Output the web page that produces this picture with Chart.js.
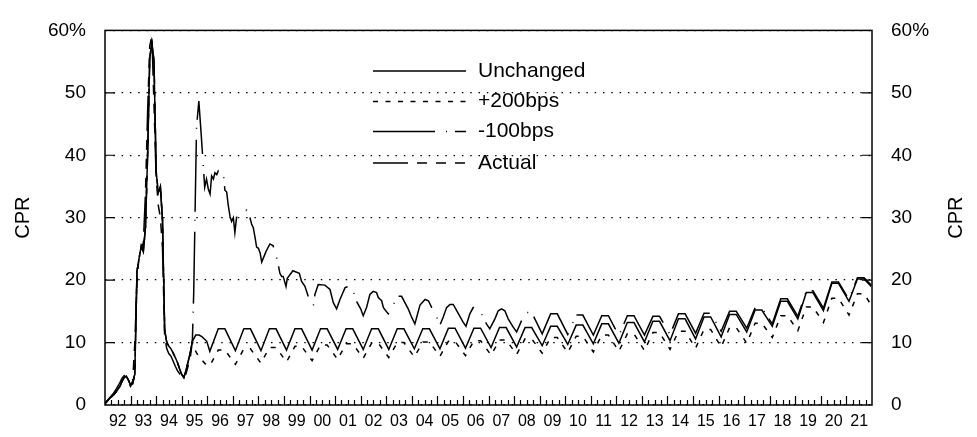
<!DOCTYPE html>
<html lang="en">
<head>
<meta charset="UTF-8">
<title>CPR projections</title>
<script src="https://cdn.jsdelivr.net/npm/chart.js"></script>
<style>
  html, body { margin: 0; padding: 0; background: #fff; }
  canvas { display: block; }
</style>
</head>
<body>
<canvas id="cprChart" width="977" height="437"></canvas>
<script>
// x axis: years 1992..2021, label sits in the middle of each year
const yearLabels = ['92','93','94','95','96','97','98','99','00','01','02','03','04','05','06',
                    '07','08','09','10','11','12','13','14','15','16','17','18','19','20','21'];
const seriesNames = ['Unchanged', '+200bps', '-100bps', 'Actual'];

// monthly history, Jan 1992 .. Jun 1995 (CPR %)
const historyModel = [0.2, 0.6, 1.0, 1.3, 1.6, 2.0, 2.5, 3.0, 3.8, 4.4, 4.6, 4.0,
                      3.2, 3.4, 5.0, 21.4, 23.5, 25.5, 24.6, 28.5, 40.0, 55.5, 58.0, 55.0,
                      37.5, 34.0, 35.0, 29.5, 12.0, 10.0, 9.4, 9.0, 8.3, 7.6, 6.8, 5.8,
                      4.9, 4.4, 5.5, 6.9, 8.3, 10.2];
const historyActual = [0.3, 0.7, 1.1, 1.5, 1.9, 2.4, 3.0, 3.6, 4.3, 4.7, 4.4, 3.6,
                       3.0, 3.9, 10.0, 19.5, 24.0, 25.0, 26.0, 34.0, 47.0, 57.5, 59.2, 48.0,
                       36.5, 32.0, 30.0, 25.0, 11.0, 9.0, 8.2, 7.8, 7.0, 6.2, 5.5, 5.0,
                       4.6, 4.3, 5.0, 6.2, 7.5, 10.2];

// projection start (second half of 1995)
const unchangedStart = [[1995.55, 11.2], [1995.68, 11.2], [1995.80, 10.9], [1995.98, 10.2]];
const plus200Start = [[1995.50, 9.0], [1995.60, 8.2], [1995.75, 7.4], [1995.92, 6.6]];

// seasonal years: winter low (Feb) and summer plateau (Jun-Sep)
const seasonYears = [1996, 1997, 1998, 1999, 2000, 2001, 2002, 2003, 2004, 2005, 2006, 2007, 2008,
                     2009, 2010, 2011, 2012, 2013, 2014, 2015, 2016, 2017, 2018, 2019, 2020, 2021];
const unchangedLow  = [8.6, 8.7, 8.7, 8.8, 8.8, 8.9, 8.9, 8.9, 9.0, 9.0, 9.1, 9.2, 9.3,
                       9.5, 9.7, 9.8, 9.9, 10.1, 10.3, 10.6, 10.9, 11.7, 12.6, 13.8, 15.1, 16.6];
const unchangedHigh = [12.2, 12.2, 12.2, 12.2, 12.2, 12.2, 12.2, 12.2, 12.2, 12.3, 12.3, 12.4, 12.4,
                       12.6, 12.8, 13.0, 13.2, 13.4, 13.8, 14.1, 14.5, 15.2, 16.6, 18.0, 19.5, 20.2];
const plus200Low  = [6.3, 6.5, 6.7, 6.9, 7.1, 7.3, 7.5, 7.6, 7.7, 7.8, 7.9, 8.0, 8.1,
                     8.3, 8.4, 8.5, 8.6, 8.7, 8.9, 9.1, 9.3, 9.9, 10.8, 11.9, 13.2, 14.4];
const plus200High = [8.8, 9.0, 9.2, 9.4, 9.6, 9.8, 9.9, 10.0, 10.1, 10.2, 10.3, 10.4, 10.6,
                     10.8, 11.0, 11.2, 11.4, 11.6, 11.8, 12.1, 12.4, 13.1, 14.3, 15.7, 17.1, 17.8];

// -100bps: refinance spike then burn-out, read point by point up to 2007
const minus100Early = [
  [1995.47, 18.0], [1995.58, 44.5], [1995.67, 48.7], [1995.76, 43.5], [1995.82, 39.8], [1995.90, 34.9],
  [1995.97, 36.2], [1996.04, 34.6], [1996.11, 33.8], [1996.17, 36.7], [1996.24, 36.2], [1996.30, 37.2],
  [1996.37, 36.9], [1996.43, 37.5], [1996.50, 37.2], [1996.56, 37.0], [1996.63, 37.2], [1996.69, 34.4],
  [1996.76, 34.1], [1996.82, 32.0], [1996.89, 30.2], [1996.95, 29.4], [1997.02, 30.0], [1997.08, 27.6],
  [1997.15, 30.2], [1997.21, 30.5], [1997.28, 30.7], [1997.41, 31.0], [1997.54, 31.2], [1997.67, 30.0],
  [1997.74, 28.9], [1997.80, 28.4], [1997.87, 26.8], [1997.93, 25.3], [1998.00, 25.1], [1998.07, 24.3],
  [1998.13, 22.9], [1998.30, 24.6], [1998.45, 25.8], [1998.58, 25.5], [1998.65, 24.0], [1998.71, 23.7],
  [1998.78, 22.4], [1998.84, 21.1], [1998.91, 20.6], [1998.97, 20.6], [1999.08, 19.0], [1999.13, 20.3],
  [1999.35, 21.5], [1999.60, 21.1], [1999.69, 19.8], [1999.82, 19.0], [1999.95, 17.4], [2000.08, 16.4],
  [2000.15, 15.9], [2000.21, 17.7], [2000.34, 19.3], [2000.60, 19.2], [2000.80, 18.5], [2000.93, 16.4],
  [2001.06, 15.4], [2001.19, 16.9], [2001.39, 18.8], [2001.52, 19.0], [2001.65, 19.0], [2001.85, 16.5],
  [2002.00, 15.4], [2002.10, 14.3], [2002.23, 15.6], [2002.36, 17.7], [2002.49, 18.2], [2002.62, 18.0],
  [2002.69, 17.2], [2002.82, 16.7], [2002.89, 15.6], [2003.08, 14.6], [2003.21, 15.1], [2003.34, 16.7],
  [2003.47, 17.4], [2003.60, 17.4], [2003.73, 16.4], [2003.86, 15.4], [2003.99, 14.1], [2004.12, 13.0],
  [2004.32, 16.0], [2004.52, 16.9], [2004.65, 16.7], [2004.78, 15.6], [2004.97, 14.1], [2005.10, 12.8],
  [2005.23, 14.1], [2005.36, 15.6], [2005.49, 16.1], [2005.62, 16.1], [2005.80, 14.8], [2006.00, 13.3],
  [2006.12, 12.6], [2006.27, 14.6], [2006.40, 15.6], [2006.53, 15.6], [2006.66, 15.1], [2006.79, 14.1],
  [2006.92, 13.0], [2007.05, 12.2], [2007.25, 13.8], [2007.38, 15.1], [2007.51, 15.4], [2007.64, 15.1],
  [2007.77, 13.8], [2007.96, 12.5]
];
const minus100Years = [2008, 2009, 2010, 2011, 2012, 2013, 2014, 2015, 2016, 2017, 2018, 2019, 2020, 2021];
const minus100Low  = [11.7, 11.4, 11.3, 11.2, 11.1, 11.2, 11.3, 11.5, 11.8, 12.3, 13.0, 14.2, 15.5, 16.9];
const minus100High = [14.8, 14.6, 14.4, 14.3, 14.3, 14.2, 14.6, 14.7, 15.0, 15.6, 17.0, 18.3, 19.7, 20.4];

// last month of the projection
const unchangedEnd = [[2021.97, 19.0]];
const plus200End = [[2021.97, 16.0]];
const minus100End = [[2021.97, 19.2]];

// line styles
const dashPlus = [5, 7.5];
const dashMinus = [72, 11, 1, 8];
const dashActual = [35, 9, 10, 9, 10, 9, 10, 9];

const FONT = "'Liberation Sans', Arial, Helvetica, sans-serif";

function monthly(values) {
  return values.map((v, i) => ({ x: 1992 + i / 12, y: v }));
}
function pairs(arr) {
  return arr.map(p => ({ x: p[0], y: p[1] }));
}
function seasonal(years, lows, highs) {
  const out = [];
  years.forEach((yr, i) => {
    out.push({ x: yr + 0.10, y: lows[i] });
    out.push({ x: yr + 0.43, y: highs[i] });
    out.push({ x: yr + 0.69, y: highs[i] });
  });
  return out;
}

const unchangedData = monthly(historyModel)
  .concat(pairs(unchangedStart), seasonal(seasonYears, unchangedLow, unchangedHigh), pairs(unchangedEnd));
const plus200Data = monthly(historyModel)
  .concat(pairs(plus200Start), seasonal(seasonYears, plus200Low, plus200High), pairs(plus200End));
const minus100Data = monthly(historyModel)
  .concat(pairs(minus100Early), seasonal(minus100Years, minus100Low, minus100High), pairs(minus100End));
const actualData = monthly(historyActual);

// box, inward tick marks, in-plot legend and the two axis titles
const decor = {
  id: 'decor',
  afterDraw(chart) {
    const { ctx, chartArea: a } = chart;
    const x = chart.scales.x, y = chart.scales.y;
    ctx.save();
    ctx.strokeStyle = '#000';
    ctx.lineWidth = 1.5;
    ctx.setLineDash([]);
    ctx.strokeRect(a.left, a.top, a.right - a.left, a.bottom - a.top);

    ctx.lineWidth = 1.2;
    ctx.beginPath();
    for (let q = 1; q < yearLabels.length * 4; q++) {
      const px = Math.round(x.getPixelForValue(1992 + q / 4)) + 0.5;
      const len = q % 4 === 0 ? 9 : 5;
      ctx.moveTo(px, a.bottom);
      ctx.lineTo(px, a.bottom - len);
    }
    y.ticks.forEach(t => {
      if (t.value === 0 || t.value === 60) return;
      const py = y.getPixelForValue(t.value);
      ctx.moveTo(a.left, py); ctx.lineTo(a.left + 10, py);
      ctx.moveTo(a.right, py); ctx.lineTo(a.right - 10, py);
    });
    ctx.stroke();

    // legend
    const styles = [[], dashPlus, dashMinus, dashActual];
    const offsets = [0, 0, 10, 0];
    const rowsY = [71, 101.5, 131.5, 163];
    ctx.lineWidth = 1.5;
    ctx.font = '21px ' + FONT;
    ctx.fillStyle = '#000';
    ctx.textBaseline = 'middle';
    ctx.textAlign = 'left';
    seriesNames.forEach((name, i) => {
      ctx.setLineDash(styles[i]);
      ctx.lineDashOffset = offsets[i];
      ctx.beginPath();
      ctx.moveTo(373, rowsY[i]);
      ctx.lineTo(466, rowsY[i]);
      ctx.stroke();
      ctx.fillText(name, 478, rowsY[i]);
    });

    // axis titles
    ctx.font = '20px ' + FONT;
    ctx.textAlign = 'center';
    const midY = (a.top + a.bottom) / 2;
    [23, 956].forEach(cx => {
      ctx.save();
      ctx.translate(cx, midY);
      ctx.rotate(-Math.PI / 2);
      ctx.fillText('CPR', 0, 0);
      ctx.restore();
    });
    ctx.restore();
  }
};

const tickFont = { family: FONT, size: 19 };
const yTicks = {
  stepSize: 10,
  padding: 19,
  color: '#000',
  font: tickFont,
  callback: v => (v === 60 ? '60%' : String(v))
};

new Chart(document.getElementById('cprChart'), {
  type: 'line',
  data: {
    datasets: [
      { label: 'Actual', data: actualData, borderDash: dashActual },
      { label: '+200bps', data: plus200Data, borderDash: dashPlus },
      { label: '-100bps', data: minus100Data, borderDash: dashMinus },
      { label: 'Unchanged', data: unchangedData, borderDash: [] }
    ].map(d => Object.assign(d, {
      borderColor: '#000', borderWidth: 1.5, pointRadius: 0, tension: 0, fill: false, yAxisID: 'y'
    }))
  },
  options: {
    responsive: false,
    animation: false,
    events: [],
    layout: { padding: { top: 21, left: 0, right: 0, bottom: 0 } },
    plugins: { legend: { display: false }, tooltip: { enabled: false } },
    scales: {
      x: {
        type: 'linear',
        min: 1992,
        max: 2022,
        grid: { display: false, drawTicks: false },
        border: { display: false },
        afterBuildTicks: scale => {
          scale.ticks = yearLabels.map((lbl, i) => ({ value: 1992.5 + i }));
        },
        afterFit: scale => { scale.height = 32; },
        ticks: {
          autoSkip: false,
          maxRotation: 0,
          padding: 7,
          color: '#000',
          font: { family: FONT, size: 16 },
          callback: (v, i) => yearLabels[i]
        }
      },
      y: {
        position: 'left',
        min: 0,
        max: 60,
        afterFit: scale => { scale.width = 105; },
        grid: { color: '#000', lineWidth: 1.3, drawTicks: false },
        border: { display: false, dash: [1.5, 6.8] },
        ticks: yTicks
      },
      y2: {
        position: 'right',
        min: 0,
        max: 60,
        afterFit: scale => { scale.width = 105; },
        grid: { drawOnChartArea: false, drawTicks: false },
        border: { display: false },
        ticks: yTicks
      }
    }
  },
  plugins: [decor]
});
</script>
</body>
</html>
